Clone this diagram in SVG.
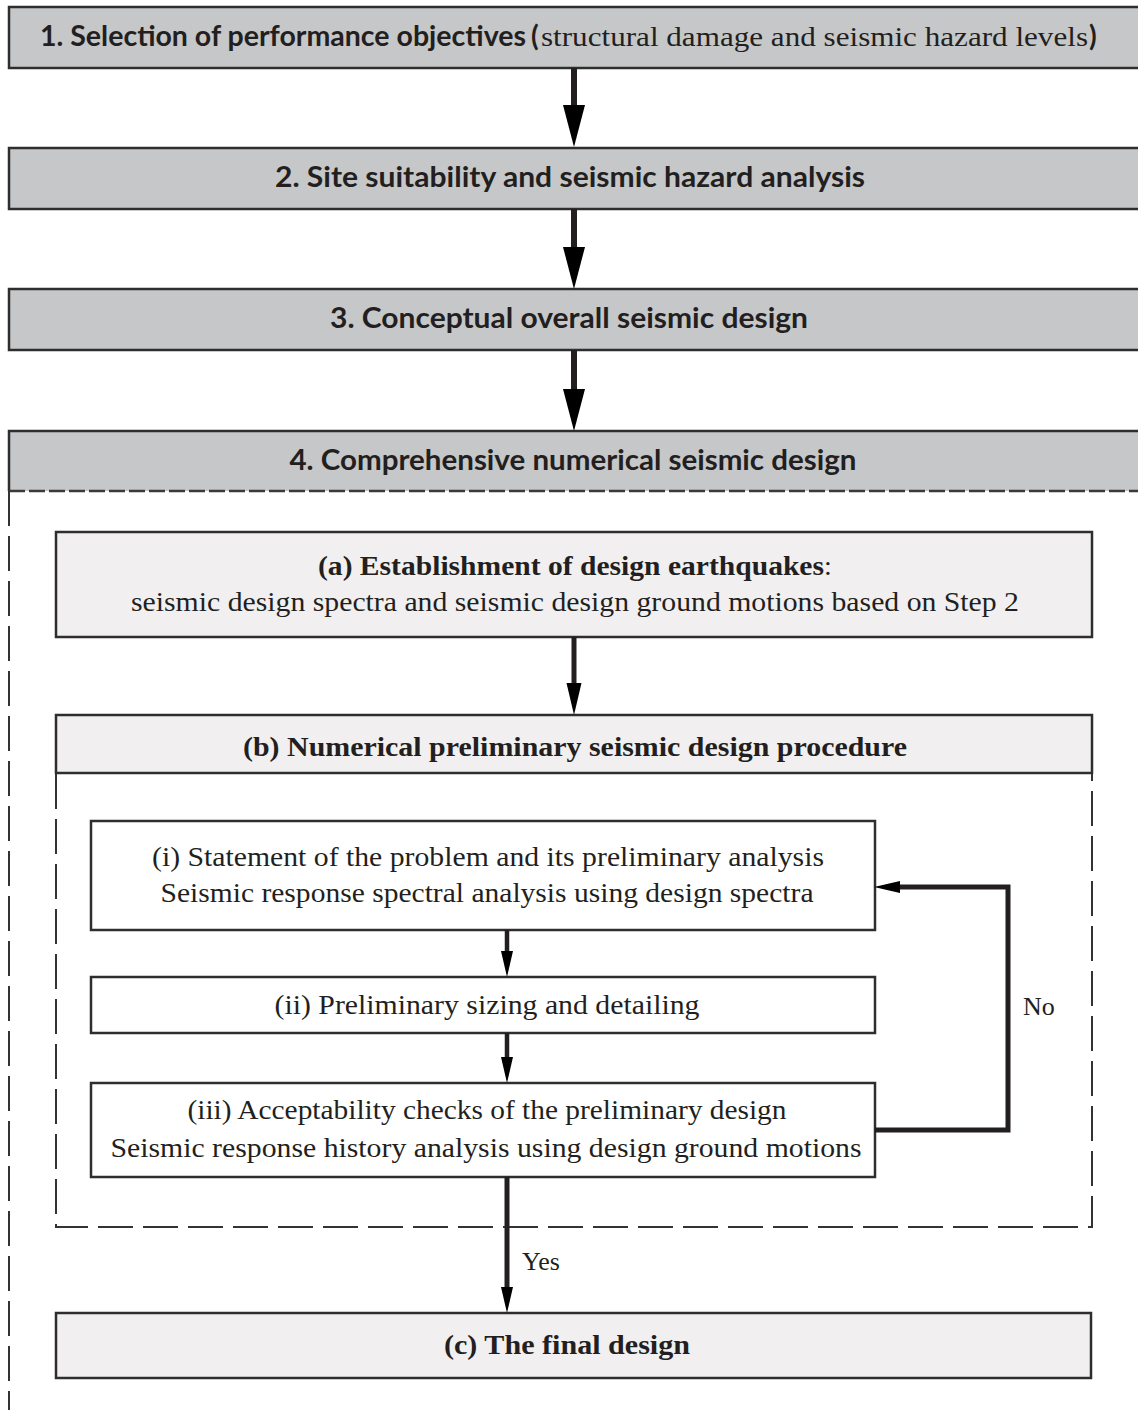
<svg xmlns="http://www.w3.org/2000/svg" width="1138" height="1410" viewBox="0 0 1138 1410">
<style>
.bg{fill:#ffffff}
.box-grey{fill:#c6c7c9;stroke:#2e2e2e;stroke-width:2.5}
.box-light{fill:#f1eff0;stroke:#2e2e2e;stroke-width:2.5}
.box-white{fill:#ffffff;stroke:#2e2e2e;stroke-width:2.5}
.dash{fill:none;stroke:#333;stroke-width:2;stroke-dasharray:35 10}
.dash-fine{fill:none;stroke:#3a3a3a;stroke-width:2.5;stroke-dasharray:16 4}
.solid{fill:none;stroke:#2e2e2e;stroke-width:2.5}
.hb{font-family:Lato,"Open Sans","Liberation Sans",sans-serif;font-weight:bold;font-size:28px;fill:#231f20}
.sr{font-family:"Liberation Serif","DejaVu Serif",serif;font-size:28px;fill:#231f20}
.sb{font-family:"Liberation Serif","DejaVu Serif",serif;font-weight:bold;font-size:28px;fill:#231f20}
.lbl{font-family:"Liberation Serif","DejaVu Serif",serif;font-size:26px;fill:#231f20}
.conn{fill:none;stroke:#231f20}
</style>
<defs>
<marker id="headL" markerUnits="userSpaceOnUse" markerWidth="44" markerHeight="22" refX="0" refY="11" orient="auto"><path d="M0,0 L42,11 L0,22 z" fill="#000"/></marker>
<marker id="headM" markerUnits="userSpaceOnUse" markerWidth="34" markerHeight="16" refX="0" refY="8" orient="auto"><path d="M0,0.5 L32,8 L0,15.5 z" fill="#000"/></marker>
<marker id="headS" markerUnits="userSpaceOnUse" markerWidth="27" markerHeight="12" refX="0" refY="6" orient="auto"><path d="M0,0 L26,6 L0,12 z" fill="#000"/></marker>
</defs>
<rect class="bg" x="0" y="0" width="1138" height="1410"/>

<g id="node-1">
<rect class="box-grey" x="9" y="7" width="1140" height="61"/>
<text class="hb" x="40" y="46" textLength="486" lengthAdjust="spacingAndGlyphs">1. Selection of performance objectives</text>
<text class="hb" x="531" y="46">(</text>
<text class="sr" x="541" y="46" textLength="547" lengthAdjust="spacingAndGlyphs">structural damage and seismic hazard levels</text>
<text class="hb" x="1089" y="46">)</text>
</g>

<g id="node-2">
<rect class="box-grey" x="9" y="148" width="1140" height="61"/>
<text class="hb" x="570" y="187" text-anchor="middle" textLength="590" lengthAdjust="spacingAndGlyphs">2. Site suitability and seismic hazard analysis</text>
</g>

<g id="node-3">
<rect class="box-grey" x="9" y="289" width="1140" height="61"/>
<text class="hb" x="569" y="328" text-anchor="middle" textLength="478" lengthAdjust="spacingAndGlyphs">3. Conceptual overall seismic design</text>
</g>

<g id="node-4">
<rect x="9" y="431" width="1140" height="60" fill="#c6c7c9"/>
<path class="solid" d="M9,491 V431 H1140"/>
<path class="dash-fine" d="M9,491 H1140"/>
<path class="dash" d="M9,491 V1410"/>
<text class="hb" x="573" y="470" text-anchor="middle" textLength="567" lengthAdjust="spacingAndGlyphs">4. Comprehensive numerical seismic design</text>
</g>

<g id="node-a">
<rect class="box-light" x="56" y="532" width="1036" height="105"/>
<text class="sb" x="318" y="575" textLength="506" lengthAdjust="spacingAndGlyphs">(a) Establishment of design earthquakes</text>
<text class="sr" x="824" y="575">:</text>
<text class="sr" x="575" y="611" text-anchor="middle" textLength="888" lengthAdjust="spacingAndGlyphs">seismic design spectra and seismic design ground motions based on Step 2</text>
</g>

<g id="node-b">
<rect class="box-light" x="56" y="715" width="1036" height="58"/>
<path class="dash" d="M56,774 V1227 H1092 V774"/>
<text class="sb" x="575" y="756" text-anchor="middle" textLength="664" lengthAdjust="spacingAndGlyphs">(b) Numerical preliminary seismic design procedure</text>
</g>

<g id="node-i">
<rect class="box-white" x="91" y="821" width="784" height="109"/>
<text class="sr" x="488" y="866" text-anchor="middle" textLength="672" lengthAdjust="spacingAndGlyphs">(i) Statement of the problem and its preliminary analysis</text>
<text class="sr" x="487" y="902" text-anchor="middle" textLength="653" lengthAdjust="spacingAndGlyphs">Seismic response spectral analysis using design spectra</text>
</g>

<g id="node-ii">
<rect class="box-white" x="91" y="977" width="784" height="56"/>
<text class="sr" x="487" y="1014" text-anchor="middle" textLength="425" lengthAdjust="spacingAndGlyphs">(ii) Preliminary sizing and detailing</text>
</g>

<g id="node-iii">
<rect class="box-white" x="91" y="1083" width="784" height="94"/>
<text class="sr" x="487" y="1119" text-anchor="middle" textLength="599" lengthAdjust="spacingAndGlyphs">(iii) Acceptability checks of the preliminary design</text>
<text class="sr" x="486" y="1157" text-anchor="middle" textLength="751" lengthAdjust="spacingAndGlyphs">Seismic response history analysis using design ground motions</text>
</g>

<g id="node-c">
<rect class="box-light" x="56" y="1313" width="1035" height="65"/>
<text class="sb" x="567" y="1354" text-anchor="middle" textLength="246" lengthAdjust="spacingAndGlyphs">(c) The final design</text>
</g>

<g id="connectors">
<line class="conn" x1="574" y1="68" x2="574" y2="105" stroke-width="6" marker-end="url(#headL)"/>
<line class="conn" x1="574" y1="209" x2="574" y2="247" stroke-width="6" marker-end="url(#headL)"/>
<line class="conn" x1="574" y1="350" x2="574" y2="389" stroke-width="6" marker-end="url(#headL)"/>
<line class="conn" x1="574" y1="637" x2="574" y2="683" stroke-width="5" marker-end="url(#headM)"/>
<line class="conn" x1="507" y1="930" x2="507" y2="951" stroke-width="4.5" marker-end="url(#headS)"/>
<line class="conn" x1="507" y1="1033" x2="507" y2="1057" stroke-width="4.5" marker-end="url(#headS)"/>
<path class="conn" d="M875,1130 H1008 V887 H900" stroke-width="5" marker-end="url(#headS)"/>
<line class="conn" x1="507" y1="1177" x2="507" y2="1287" stroke-width="5" marker-end="url(#headS)"/>
<text class="lbl" x="1023" y="1015">No</text>
<text class="lbl" x="522" y="1270">Yes</text>
</g>
</svg>
